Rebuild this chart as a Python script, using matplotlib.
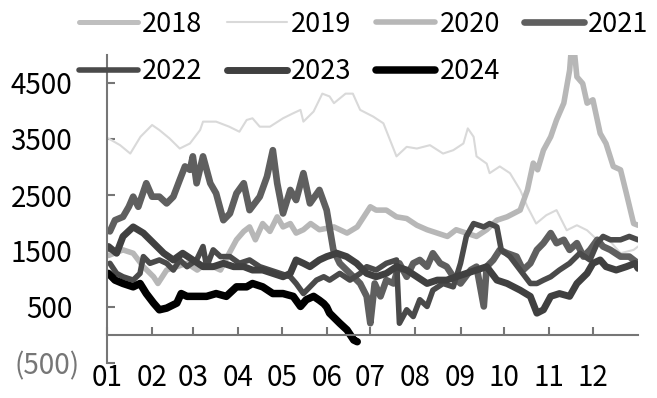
import numpy as np
import matplotlib
matplotlib.use("Agg")
import matplotlib.pyplot as plt

plt.rcParams['font.family'] = ['Noto Sans CJK SC', 'DejaVu Sans']

# day-of-year positions and values for each year
d2018 = []
v2018 = []

d2019 = [1, 9, 16, 23, 31, 36, 43, 50, 57, 64, 66, 75, 84, 91, 96, 100, 105, 112, 121, 128,
         133, 135, 142, 148, 153, 156, 164, 169, 174, 183, 190, 199, 206, 213, 222, 231, 238,
         245, 248, 252, 254, 261, 263, 270, 277, 284, 289, 295, 302, 309, 316, 323, 330, 337,
         343, 353, 362, 365]
v2019 = [3510, 3390, 3240, 3540, 3750, 3660, 3510, 3330, 3420, 3660, 3810, 3810, 3720, 3630,
         3840, 3870, 3720, 3720, 3870, 3960, 4020, 3810, 3990, 4310, 4260, 4140, 4310, 4310,
         4020, 3900, 3780, 3190, 3360, 3330, 3390, 3240, 3300, 3420, 3690, 3540, 3190, 3060,
         2890, 3010, 2890, 2590, 2290, 1990, 2140, 2230, 1870, 1960, 1870, 1700, 1760, 1460,
         1520, 1580]

d2020 = [1, 11, 18, 25, 32, 35, 41, 48, 55, 62, 68, 78, 84, 89, 94, 98, 102, 107, 112, 117,
         121, 126, 130, 135, 140, 146, 156, 165, 172, 181, 185, 192, 199, 206, 213, 220, 227,
         234, 240, 247, 254, 261, 268, 275, 284, 289, 293, 296, 300, 305, 309, 314, 318, 320,
         323, 327, 330, 334, 339, 343, 348, 353, 357, 362, 365]
v2020 = [1420, 1520, 1460, 1220, 1040, 920, 1160, 1220, 1280, 1160, 1280, 1160, 1460, 1700,
         1850, 1930, 1700, 1990, 1850, 2110, 1930, 1990, 1820, 1880, 1990, 1880, 1930, 1820,
         1930, 2290, 2230, 2230, 2110, 2080, 1960, 1880, 1820, 1760, 1880, 1820, 1760, 1880,
         2050, 2110, 2230, 2590, 3070, 2950, 3300, 3540, 3840, 4140, 4730, 5400, 4610, 4490,
         4140, 4200, 3600, 3420, 3010, 2950, 2530, 1990, 1960]

d2021 = [2, 5.5, 11, 15, 18, 21.5, 27, 31, 36, 41, 45.6, 50, 53.6, 57, 59, 61.6, 66, 71, 75,
         80, 84.5, 89, 94, 98, 105, 110, 114, 117, 121, 126, 130, 135, 139.5, 146, 151, 155.6,
         160, 167, 174, 178.5, 181, 184, 188, 192, 197, 201, 206, 210.5, 215, 220, 224, 229,
         233.5, 238, 243, 250, 254, 259, 261, 265.5, 270, 275, 281.5, 286, 291, 295.5, 300,
         305, 309, 314, 318, 323, 327.5, 332, 337, 341, 346, 353, 359, 365]
v2021 = [1850, 2050, 2110, 2290, 2470, 2290, 2710, 2470, 2470, 2350, 2470, 2770, 3010, 2950,
         3190, 2710, 3190, 2710, 2530, 2050, 2170, 2530, 2710, 2230, 2470, 2830, 3300, 2710,
         2170, 2590, 2410, 2890, 2350, 2590, 2230, 1520, 1280, 1100, 920, 690, 210, 920, 690,
         980, 920, 1280, 1040, 1280, 1340, 1220, 1460, 1280, 1220, 1040, 920, 1160, 1220, 510,
         1220, 1340, 1520, 1460, 1400, 1160, 1280, 1520, 1640, 1820, 1640, 1700, 1520, 1640,
         1400, 1520, 1700, 1580, 1520, 1400, 1400, 1280]

d2022 = [2, 6.6, 11, 18, 22.7, 25, 29.5, 36, 41, 45.6, 50, 55, 61.6, 66, 68.5, 73, 78, 84.5,
         91, 98, 105, 112, 119, 126, 130, 135, 139.5, 144, 149, 153, 160, 167, 174, 178.5, 185,
         192, 199, 201, 206, 210.5, 215, 220, 224, 231, 238, 243, 247, 252, 259, 263, 268, 271,
         277, 284, 291, 295.5, 300, 305, 311, 318, 325, 332, 337, 341, 346, 353, 359, 365]
v2022 = [1280, 1100, 1040, 980, 1100, 1400, 1280, 1340, 1280, 1160, 1340, 1220, 1340, 1580,
         1220, 1520, 1400, 1400, 1280, 1340, 1220, 1160, 1100, 1040, 920, 740, 860, 980, 1040,
         980, 1100, 980, 1100, 1220, 1160, 1280, 1340, 210, 450, 330, 630, 510, 800, 920, 860,
         1280, 1760, 1990, 1930, 1990, 1930, 1520, 1400, 1160, 920, 920, 980, 1040, 1160, 1280,
         1460, 1340, 1640, 1760, 1700, 1700, 1760, 1700]

d2023 = [1, 6.6, 11, 18, 25, 32, 39, 45.6, 52, 59, 66, 73, 80, 87, 94, 100, 107, 114, 121, 126,
         130, 135, 139.5, 146, 151, 158, 164.7, 171.6, 178.5, 185, 192, 199, 206, 213, 220, 227,
         233.5, 240, 247, 254, 261, 268, 275, 284, 291, 295.5, 300, 305, 311, 318, 323, 330,
         334, 339, 343, 350, 357, 363, 365]
v2023 = [1580, 1460, 1760, 1930, 1820, 1640, 1460, 1340, 1460, 1340, 1220, 1220, 1280, 1220,
         1220, 1160, 1160, 1100, 1040, 1100, 1340, 1280, 1220, 1340, 1400, 1460, 1400, 1280,
         1100, 1040, 1100, 1220, 1160, 1040, 920, 980, 980, 1040, 1100, 1160, 1220, 980, 920,
         800, 690, 390, 450, 690, 740, 690, 920, 1100, 1280, 1340, 1220, 1160, 1220, 1280, 1190]

d2024 = [1, 5.5, 11, 18, 22.7, 27, 32, 36, 41, 48, 51, 55, 62, 68.5, 75, 82, 89, 96, 100, 107,
         114, 121, 128, 133, 137, 142, 146, 149, 151, 153, 160, 165, 169.6, 172]
v2024 = [1100, 980, 920, 860, 920, 740, 570, 450, 480, 570, 740, 690, 690, 690, 740, 690, 860,
         860, 920, 860, 740, 740, 690, 510, 630, 690, 620, 560, 500, 390, 210, 90, -90, -120]

month_starts = [0, 31, 59, 90, 120, 151, 181, 212, 243, 273, 304, 334]
month_labels = ['01', '02', '03', '04', '05', '06', '07', '08', '09', '10', '11', '12']
y_ticks = [-500, 500, 1500, 2500, 3500, 4500]
y_labels = ['(500)', '500', '1500', '2500', '3500', '4500']

years = ['2018', '2019', '2020', '2021', '2022', '2023', '2024']
days = [d2018, d2019, d2020, d2021, d2022, d2023, d2024]
vals = [v2018, v2019, v2020, v2021, v2022, v2023, v2024]
colors = ['#BFBFBF', '#D9D9D9', '#B7B7B7', '#5F5F5F', '#4A4A4A', '#404040', '#000000']
widths = [3.6, 1.5, 4.0, 4.8, 4.0, 5.0, 5.4]

axis_grey = '#767676'

fig = plt.figure(figsize=(6.57, 3.98), dpi=100)
ax = fig.add_axes([107 / 657, 35 / 398, 531 / 657, 308 / 398])

lines = {}
for yr, d, v, c, w in zip(years, days, vals, colors, widths):
    ln, = ax.plot(d, v, color=c, lw=w, label=yr,
                  solid_joinstyle='round', solid_capstyle='round')
    lines[yr] = ln

ax.set_xlim(0, 365)
ax.set_ylim(-500, 5000)

for s in ['top', 'right']:
    ax.spines[s].set_visible(False)
ax.spines['bottom'].set_position(('data', 0))
for s in ['left', 'bottom']:
    ax.spines[s].set_color(axis_grey)
    ax.spines[s].set_linewidth(1.5)

ax.set_xticks(month_starts, month_labels)
ax.set_yticks(y_ticks, y_labels)
ax.tick_params(axis='both', direction='in', length=6, width=1.5, color=axis_grey,
               labelsize=20)
ax.tick_params(axis='x', pad=20)
ax.tick_params(axis='y', pad=25)

yt = ax.yaxis.get_major_ticks()
yt[0].set_pad(19.5)
yt[0].label1.set_color(axis_grey)

order = ['2018', '2022', '2019', '2023', '2020', '2024', '2021']
fig.legend([lines[k] for k in order], order, ncol=4, loc='upper left',
           bbox_to_anchor=(76 / 657, 0.98), frameon=False, fontsize=19.5,
           handlelength=2.2, handletextpad=0.15, columnspacing=0.9,
           labelspacing=0.75, borderpad=0.1, borderaxespad=0)

fig.savefig('out.png', dpi=100)
